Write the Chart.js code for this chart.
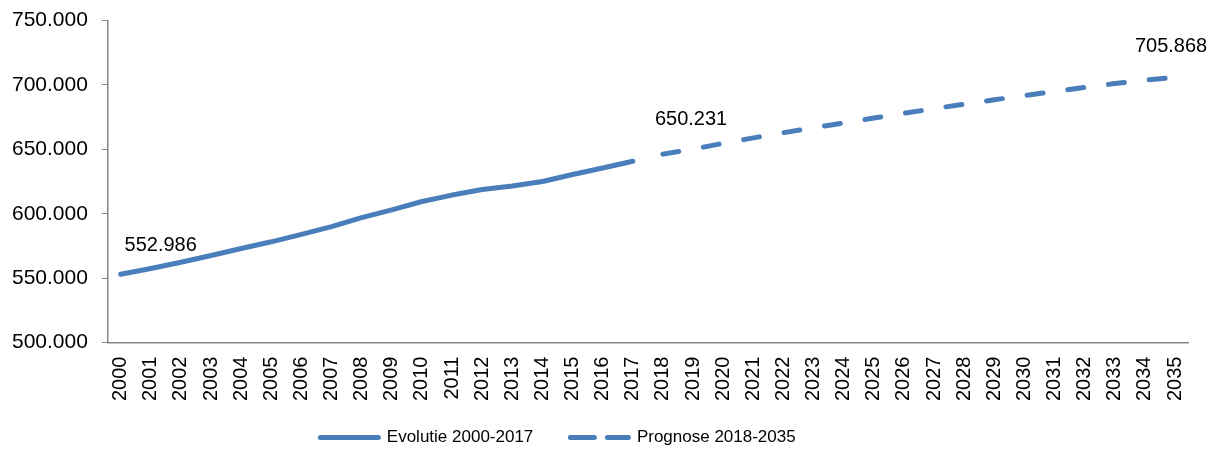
<!DOCTYPE html>
<html>
<head>
<meta charset="utf-8">
<script src="https://cdn.jsdelivr.net/npm/chart.js@4.4.1/dist/chart.umd.min.js"></script>
<style>
  body { margin: 0; background: #fff; }
  #wrap { width: 1220px; height: 450px; }
</style>
</head>
<body>
<div id="wrap"><canvas id="myChart"></canvas></div>
<script>
// data
const years = [];
for (let y = 2000; y <= 2035; y++) years.push(String(y));

const evolutie = [552986, 557500, 562300, 567600, 573000, 578200, 584000, 590000, 597000,
  603000, 609500, 614500, 618800, 621500, 625000, 630500, 635500, 640800];
const prognose = [646300, 650231, 654700, 658900, 662900, 666800, 670500, 674300, 678000,
  681600, 685100, 688500, 691800, 695000, 698100, 701100, 703800, 705868];
const yTicks = [500000, 550000, 600000, 650000, 700000, 750000];
const labelYears = ['2000', '2019', '2035'];

const blue = '#4A7EBB';
const axisGrey = '#868686';

function fmt(v) {
  return String(v).replace(/\B(?=(\d{3})+(?!\d))/g, '.');
}

// {x,y} points on a linear x axis (index of the year)
const evoPoints = evolutie.map((v, i) => ({ x: i, y: v }));
const progPoints = prognose.map((v, i) => ({ x: evolutie.length + i, y: v }));

// value labels above a few points
const valueLabels = {
  id: 'valueLabels',
  afterDatasetsDraw(chart) {
    const ctx = chart.ctx;
    const xs = chart.scales.x, ys = chart.scales.y;
    const offsets = { '2000': [40, -29], '2019': [-2, -30], '2035': [-4, -31] };
    ctx.save();
    ctx.font = '20px "Liberation Sans", Arial, sans-serif';
    ctx.fillStyle = '#000';
    ctx.textAlign = 'center';
    ctx.textBaseline = 'middle';
    labelYears.forEach(yr => {
      const i = years.indexOf(yr);
      const v = i < evolutie.length ? evolutie[i] : prognose[i - evolutie.length];
      const o = offsets[yr];
      ctx.fillText(fmt(v), xs.getPixelForValue(i) + o[0], ys.getPixelForValue(v) + o[1]);
    });
    ctx.restore();
  }
};

// legend sits a bit left of centre in the original
const legendShift = {
  id: 'legendShift',
  afterLayout(chart) {
    chart.legend.left -= 38;
    chart.legend.right -= 38;
  }
};

Chart.defaults.font.family = '"Liberation Sans", Arial, sans-serif';
Chart.defaults.color = '#000';

const ctx = document.getElementById('myChart');

new Chart(ctx, {
  type: 'line',
  data: {
    datasets: [{
      label: 'Evolutie 2000-2017',
      data: evoPoints,
      borderColor: blue,
      backgroundColor: blue,
      borderWidth: 5,
      borderCapStyle: 'round',
      borderJoinStyle: 'round',
      pointRadius: 0,
      tension: 0
    }, {
      label: 'Prognose 2018-2035',
      data: progPoints,
      borderColor: blue,
      backgroundColor: blue,
      borderWidth: 5,
      borderDash: [16, 25],
      borderCapStyle: 'round',
      pointRadius: 0,
      tension: 0
    }]
  },
  options: {
    responsive: true,
    maintainAspectRatio: false,
    animation: false,
    layout: { padding: { left: 4, right: 32, top: 8, bottom: -6 } },
    plugins: {
      tooltip: { enabled: false },
      legend: {
        position: 'bottom',
        labels: {
          usePointStyle: true,
          pointStyle: 'line',
          pointStyleWidth: 58,
          boxHeight: 17,
          padding: 4,
          font: { size: 17 },
          generateLabels: chart => {
            const items = Chart.defaults.plugins.legend.labels.generateLabels(chart);
            items.forEach((it, i) => {
              it.lineWidth = 5;
              it.lineCap = 'round';
              it.strokeStyle = blue;
              it.fillStyle = blue;
              it.lineDash = i === 1 ? [24, 13] : [];
              // extra room between the two items
              if (i === 0) it.text += '\u00A0\u00A0\u00A0\u00A0\u00A0\u00A0\u00A0';
            });
            return items;
          }
        }
      }
    },
    scales: {
      x: {
        type: 'linear',
        min: -0.43,
        max: 35.43,
        border: { color: axisGrey, width: 1.5 },
        grid: { display: false, drawOnChartArea: false, tickLength: 6, color: axisGrey },
        ticks: {
          stepSize: 1,
          includeBounds: false,
          autoSkip: false,
          minRotation: 90,
          maxRotation: 90,
          padding: 8,
          font: { size: 20 },
          callback: v => years[v]
        },
        afterFit: s => { s.height += 16; }
      },
      y: {
        min: 500000,
        max: 750000,
        afterBuildTicks: s => { s.ticks = yTicks.map(v => ({ value: v })); },
        border: { color: axisGrey, width: 1.5 },
        grid: { drawOnChartArea: false, tickLength: 6, color: axisGrey },
        ticks: {
          padding: 8,
          font: { size: 21 },
          callback: v => fmt(v) + '\u00A0'
        }
      }
    }
  },
  plugins: [valueLabels, legendShift]
});
</script>
</body>
</html>
